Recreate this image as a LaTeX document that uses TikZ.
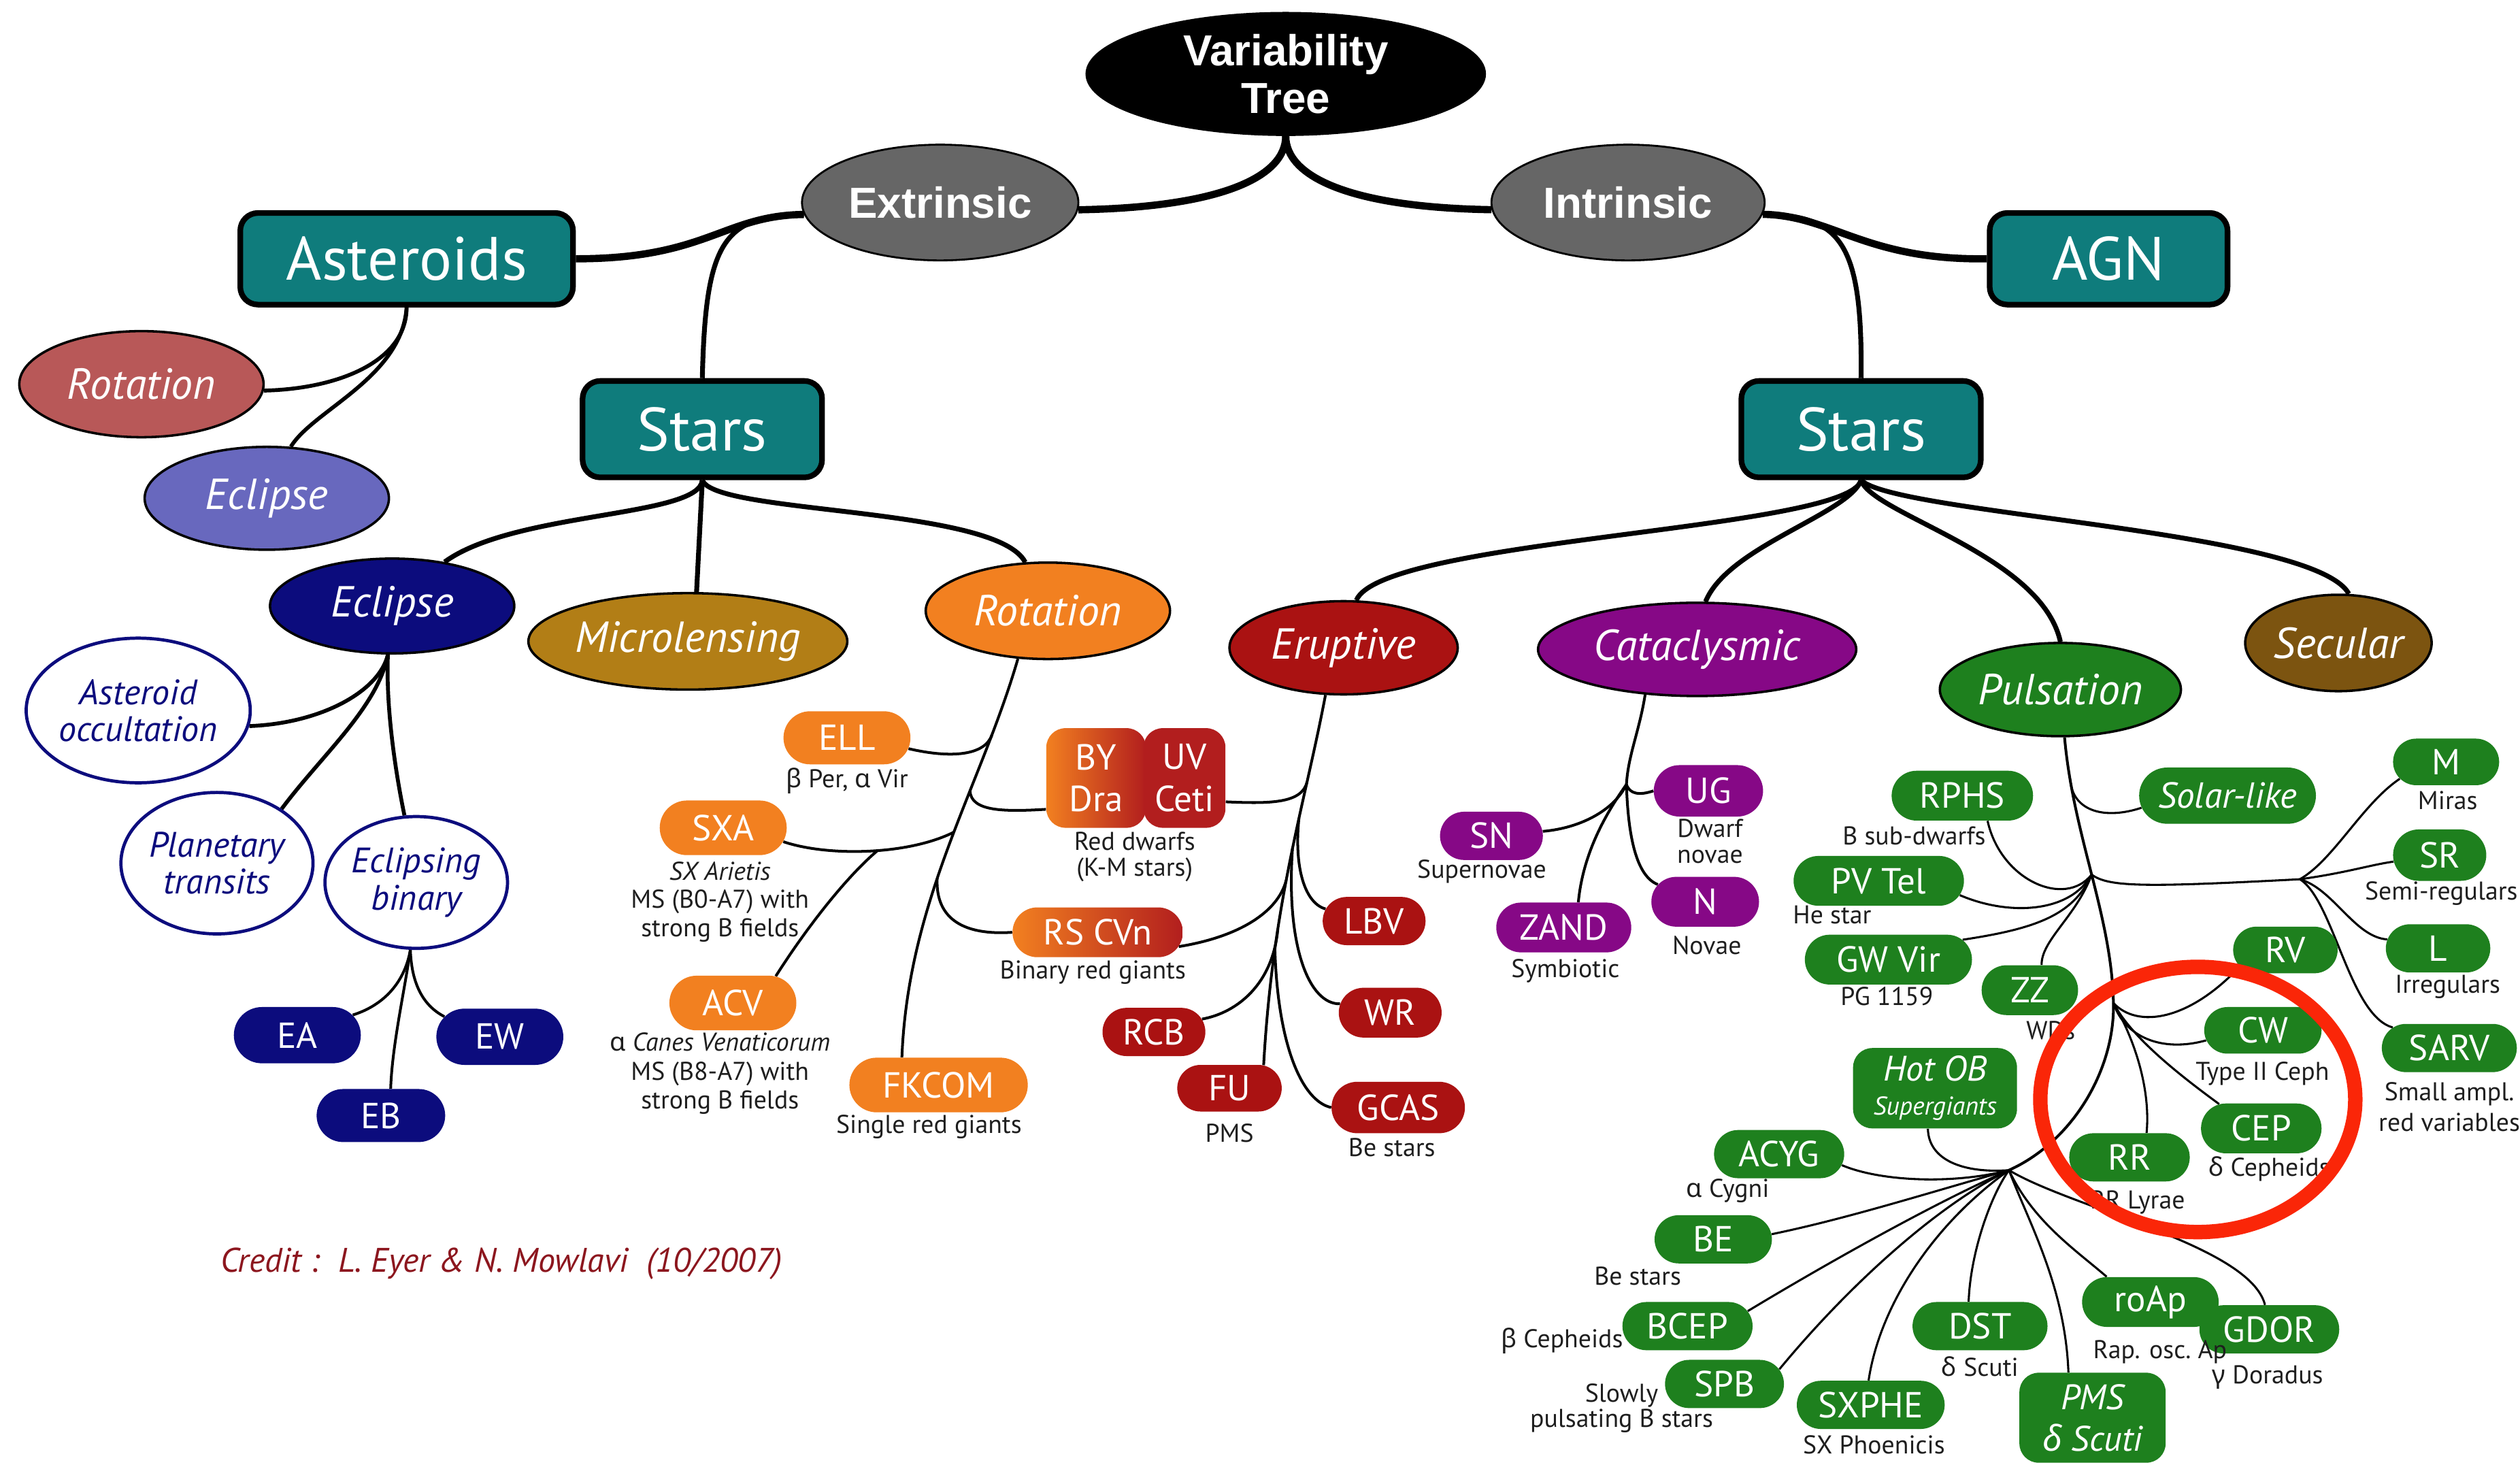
\documentclass[tikz,border=0pt]{standalone}
\usepackage{fontspec}
\setmainfont{PT Sans}
\newfontfamily\helv{Liberation Sans}
\newfontfamily\gk{Noto Sans}
\usetikzlibrary{shapes.geometric,shapes.misc,calc}
\definecolor{cTeal}{RGB}{15,124,124}
\definecolor{cGray}{RGB}{102,102,102}
\definecolor{cRose}{RGB}{184,88,88}
\definecolor{cSlate}{RGB}{104,104,190}
\definecolor{cNavy}{RGB}{12,12,125}
\definecolor{cGold}{RGB}{178,126,22}
\definecolor{cOrange}{RGB}{242,128,32}
\definecolor{cRed}{RGB}{170,18,18}
\definecolor{cDeepRed}{RGB}{178,30,30}
\definecolor{cPurple}{RGB}{134,8,134}
\definecolor{cGreen}{RGB}{30,128,30}
\definecolor{cBrown}{RGB}{124,84,16}
\definecolor{cCredit}{RGB}{140,22,30}
\definecolor{cCircle}{RGB}{250,38,8}
\definecolor{cLab}{RGB}{30,30,30}
\pgfdeclarelayer{bg}
\pgfsetlayers{bg,main}
\tikzset{
  sz/.style 2 args={minimum width=#1,minimum height=#2},
  bigbox/.style={rectangle, draw=black, line width=3.5pt, rounded corners=11pt, fill=cTeal, text=white, inner sep=0pt, font=\fontsize{38}{38}\selectfont},
  topell/.style={ellipse, draw=black, line width=1.2pt, fill=cGray, inner sep=0pt, text=white, align=center, font=\helv\bfseries\fontsize{27}{30}\selectfont},
  catell/.style={ellipse, draw=black, line width=1.5pt, inner sep=0pt, text=white, font=\itshape\fontsize{27}{27}\selectfont},
  wcirc/.style={ellipse, draw=cNavy, line width=2pt, fill=white, text=cNavy, inner sep=0pt, align=center, font=\itshape\fontsize{22}{23}\selectfont},
  pill/.style={rounded rectangle, inner sep=0pt, text=white, font=\fontsize{22.5}{22.5}\selectfont},
  rbx/.style={rectangle, rounded corners=12pt, inner sep=0pt, text=white, align=center},
  lab/.style={inner sep=0pt, text=cLab, align=center, font=\fontsize{16}{18}\selectfont},
  wA/.style={line width=4.5pt},
  wB/.style={line width=3pt},
  wC/.style={line width=2.4pt},
  wD/.style={line width=1.7pt},
  wE/.style={line width=1.3pt},
}
\begin{document}
\begin{tikzpicture}[x=1pt,y=-1pt]
\useasboundingbox (0,0) rectangle (1568,911);

% ---------- top levels ----------
\node[topell, fill=black, sz={248}{76}] (VT) at (800,46) {Variability\\Tree};
\node[topell, sz={172}{72}] (Ext) at (585,126) {Extrinsic};
\node[topell, sz={170}{72}] (Int) at (1013,126) {Intrinsic};
\node[bigbox, sz={207}{57}] (Ast) at (253,161) {Asteroids};
\node[bigbox, sz={148}{57}] (AGN) at (1312,161) {AGN};
\node[bigbox, sz={149}{60}] (StarsL) at (437,267) {Stars};
\node[bigbox, sz={149}{60}] (StarsR) at (1158,267) {Stars};
\node[catell, fill=cRose, sz={152}{66}] (ARot) at (88,239) {Rotation};
\node[catell, fill=cSlate, sz={152}{64}] (AEcl) at (166,310) {Eclipse};

\node[catell, fill=cNavy, sz={152}{59}] (Ecl) at (244,377) {Eclipse};
\node[catell, fill=cGold, sz={180}{60}] (Micro) at (428,399) {Microlensing};
\node[catell, fill=cOrange, sz={152}{60}] (Rot) at (652,380) {Rotation};
\node[catell, fill=cRed, sz={142}{58}] (Eru) at (836,403) {Eruptive};
\node[catell, fill=cPurple, sz={198}{58}] (Cat) at (1056,404) {Cataclysmic};
\node[catell, fill=cGreen, sz={150}{58}] (Pul) at (1282,429) {Pulsation};
\node[catell, fill=cBrown, sz={116}{60}] (Sec) at (1455,400) {Secular};

% ---------- eclipse branch ----------
\node[wcirc, sz={122}{90}] (AO) at (86,442) {Asteroid\\occultation};
\node[wcirc, sz={108}{88}] (PT) at (135,537) {Planetary\\transits};
\node[wcirc, sz={104}{82}] (EBin) at (259,549) {Eclipsing\\binary};
\node[pill, fill=cNavy, sz={79}{35}] (EA) at (185,644) {EA};
\node[pill, fill=cNavy, sz={79}{35}] (EW) at (311,645) {EW};
\node[pill, fill=cNavy, sz={80}{33}] (EB) at (237,694) {EB};

% ---------- rotation branch ----------
\node[pill, fill=cOrange, sz={79}{33}] (ELL) at (527,459) {ELL};
\node[pill, fill=cOrange, sz={79}{34}] (SXA) at (450,515) {SXA};
\node[pill, fill=cOrange, sz={79}{34}] (ACV) at (456,624) {ACV};
\node[pill, fill=cOrange, sz={111}{34}] (FKCOM) at (584,675) {FKCOM};
\node[rbx, left color=cOrange, right color=cDeepRed, sz={62}{62}, font=\fontsize{22.5}{26}\selectfont] (BY) at (682,484) {BY\\Dra};
\node[rbx, fill=cDeepRed, sz={51}{62}, font=\fontsize{22.5}{26}\selectfont] (UV) at (737,484) {UV\\Ceti};
\node[pill, left color=cOrange, right color=cDeepRed, sz={106}{31}] (RSCVn) at (683,580) {RS CVn};

\node[lab] (lELL) at (527,486) {{\gk β} Per, {\gk α} Vir};
\node[lab, font=\fontsize{16}{17.5}\selectfont] (lSXA) at (448,561) {\textit{SX Arietis}\\MS (B0-A7) with\\strong B fields};
\node[lab, font=\fontsize{16}{18}\selectfont] (lACV) at (448,668) {{\gk α} \textit{Canes Venaticorum}\\MS (B8-A7) with\\strong B fields};
\node[lab] (lFK) at (578,701) {Single red giants};
\node[lab, font=\fontsize{16}{16}\selectfont] (lBY) at (706,533) {Red dwarfs\\(K-M stars)};
\node[lab] (lRS) at (680,605) {Binary red giants};

% ---------- eruptive branch ----------
\node[pill, fill=cRed, sz={64}{30}] (LBV) at (855,573) {LBV};
\node[pill, fill=cRed, sz={64}{31}] (WR) at (865,630) {WR};
\node[pill, fill=cRed, sz={64}{30}] (RCB) at (718,642) {RCB};
\node[pill, fill=cRed, sz={65}{29}] (FU) at (765,677) {FU};
\node[pill, fill=cRed, sz={83}{32}] (GCAS) at (870,689) {GCAS};
\node[lab] (lFU) at (765,705) {PMS};
\node[lab] (lGC) at (866,714) {Be stars};

% ---------- cataclysmic branch ----------
\node[pill, fill=cPurple, sz={64}{30}] (SN) at (928,520) {SN};
\node[pill, fill=cPurple, sz={84}{31}] (ZAND) at (973,577) {ZAND};
\node[pill, fill=cPurple, sz={68}{32}] (UG) at (1063,492) {UG};
\node[pill, fill=cPurple, sz={67}{31}] (N) at (1061,561) {N};
\node[lab] (lSN) at (922,542) {Supernovae};
\node[lab] (lZA) at (974,604) {Symbiotic};
\node[lab, anchor=base] (lUG) at (1064,521) {Dwarf};
\node[lab, anchor=base] (lUG2) at (1064,537) {novae};
\node[lab] (lN) at (1062,588) {Novae};

% ---------- pulsation branch ----------
\node[pill, fill=cGreen, sz={88}{31}] (RPHS) at (1221,495) {RPHS};
\node[pill, fill=cGreen, sz={106}{31}] (PVTel) at (1169,548) {PV Tel};
\node[pill, fill=cGreen, sz={104}{31}] (GWVir) at (1175,597) {GW Vir};
\node[pill, fill=cGreen, sz={60}{31}] (ZZ) at (1263,616) {ZZ};
\node[pill, fill=cGreen, sz={110}{35}, font=\itshape\fontsize{22.5}{22.5}\selectfont] (Solar) at (1386,495) {Solar-like};
\node[pill, fill=cGreen, sz={66}{29}] (M) at (1522,474) {M};
\node[pill, fill=cGreen, sz={58}{32}] (SR) at (1518,532) {SR};
\node[pill, fill=cGreen, sz={65}{30}] (L) at (1517,590) {L};
\node[pill, fill=cGreen, sz={84}{30}] (SARV) at (1524,652) {SARV};
\node[pill, fill=cGreen, sz={65}{29}] (RV) at (1422,591) {RV};
\node[pill, fill=cGreen, sz={73}{29}] (CW) at (1408,641) {CW};
\node[pill, fill=cGreen, sz={75}{31}] (CEP) at (1407,702) {CEP};
\node[pill, fill=cGreen, sz={75}{30}] (RR) at (1325,720) {RR};
\node[rbx, fill=cGreen, sz={102}{50}, font=\itshape\fontsize{16}{16}\selectfont] (HotOB) at (1204,677) {{\fontsize{22}{22}\selectfont Hot OB}\\[5pt]Supergiants};
\node[pill, fill=cGreen, sz={81}{30}] (ACYG) at (1107,718) {ACYG};
\node[pill, fill=cGreen, sz={73}{30}] (BE) at (1066,771) {BE};
\node[pill, fill=cGreen, sz={81}{30}] (BCEP) at (1050,825) {BCEP};
\node[pill, fill=cGreen, sz={74}{30}] (SPB) at (1073,861) {SPB};
\node[pill, fill=cGreen, sz={92}{30}] (SXPHE) at (1164,874) {SXPHE};
\node[pill, fill=cGreen, sz={84}{30}] (DST) at (1232,825) {DST};
\node[rbx, fill=cGreen, sz={91}{56}, font=\itshape\fontsize{22}{26}\selectfont] (PMS) at (1302,882) {PMS\\{\gk\itshape δ} Scuti};
\node[pill, fill=cGreen, sz={85}{31}] (roAp) at (1338,810) {roAp};
\node[pill, fill=cGreen, sz={87}{30}] (GDOR) at (1412,827) {GDOR};

\node[lab] (lRP) at (1191,520) {B sub-dwarfs};
\node[lab] (lPV) at (1140,569) {He star};
\node[lab] (lGW) at (1174,620) {PG 1159};
\node[lab] (lZZ) at (1276,641) {WDs};
\node[lab] (lM) at (1523,498) {Miras};
\node[lab] (lSR) at (1519,556) {Semi-regulars};
\node[lab] (lL) at (1523,614) {Irregulars};
\node[lab, font=\fontsize{16}{19}\selectfont] (lSA) at (1524,688.5) {Small ampl.\\red variables};
\node[lab, anchor=west] (lCW) at (1366,668) {Type II Ceph};
\node[lab, anchor=west] (lCEP) at (1374,727) {{\gk δ} Cepheids};
\node[lab] (lRR) at (1330,748) {RR Lyrae};
\node[lab] (lAC) at (1075,741) {{\gk α} Cygni};
\node[lab] (lBE) at (1019,794) {Be stars};
\node[lab, anchor=east] (lBC) at (1010,834) {{\gk β} Cepheids};
\node[lab, font=\fontsize{16}{14}\selectfont] (lSP) at (1009,876) {Slowly\\pulsating B stars};
\node[lab] (lSX) at (1166,899) {SX Phoenicis};
\node[lab] (lDS) at (1232,850) {{\gk δ} Scuti};
\node[lab] (lRO) at (1344,841) {Rap. osc.\ Ap};
\node[lab] (lGD) at (1411,857) {{\gk γ} Doradus};

\node[inner sep=0pt, anchor=west, text=cCredit, font=\itshape\fontsize{21.2}{22}\selectfont] (credit) at (137,786) {Credit :\ \ L. Eyer \& N. Mowlavi\ \ (10/2007)};

% ---------- junctions ----------
\coordinate (jC) at (1012,488);
\coordinate (jB) at (1315,624);
\coordinate (hub) at (1250,728);
\coordinate (jM) at (1431,547);

% ---------- connectors ----------
\begin{pgfonlayer}{bg}
\draw[wA] (VT.south) .. controls (800,110) and (760,129) .. (Ext.-3);
\draw[wA] (VT.south) .. controls (800,110) and (840,129) .. (Int.183);
\draw[wA] (Ext.185) .. controls (450,134) and (440,161) .. (Ast.east);
\draw[wB] (Ext.185) .. controls (450,134) and (439,150) .. (StarsL.north);
\draw[wA] (Int.-5) .. controls (1140,134) and (1160,162) .. (AGN.west);
\draw[wB] (Int.-5) .. controls (1145,134) and (1159,150) .. (StarsR.north);

\draw[wC] (Ast.south) .. controls (253,225) and (210,242) .. (ARot.-3);
\draw[wC] (Ast.south) .. controls (250,235) and (195,255) .. (AEcl.65);

\draw[wB] (StarsL.south) .. controls (435,322) and (320,318) .. (Ecl.40);
\draw[wB] (StarsL.south) -- (Micro.80);
\draw[wB] (StarsL.south) .. controls (445,320) and (620,315) .. (Rot.115);

\draw[wB] (StarsR.south) .. controls (1150,330) and (860,335) .. (Eru.75);
\draw[wB] (StarsR.south) .. controls (1150,320) and (1075,340) .. (Cat.80);
\draw[wB] (StarsR.south) .. controls (1165,320) and (1270,345) .. (Pul.north);
\draw[wB] (StarsR.south) .. controls (1180,320) and (1440,330) .. (Sec.78);

% eclipse
\draw[wC] (Ecl.265) .. controls (236,430) and (200,450) .. (AO.-8);
\draw[wC] (Ecl.265) .. controls (235,440) and (200,470) .. (PT.40);
\draw[wC] (Ecl.265) .. controls (240,440) and (246,480) .. (EBin.100);
\draw[wD] (EBin.-95) .. controls (252,610) and (240,625) .. (EA.20);
\draw[wD] (EBin.-95) .. controls (252,615) and (244,650) .. (EB.70);
\draw[wD] (EBin.-95) .. controls (256,610) and (262,625) .. (EW.160);

% rotation
\draw[wD] (Rot.238) .. controls (610,490) and (565,560) .. (FKCOM.143)
  coordinate[pos=0.2] (jELL) coordinate[pos=0.35] (jBY) coordinate[pos=0.46] (jSXA) coordinate[pos=0.58] (jRS);
\draw[wD] (ELL.-10) .. controls (592,472) and (613,470) .. (jELL);
\draw[wD] (jBY) .. controls (604,505) and (625,505) .. (BY.212);
\draw[wD] (SXA.-13) .. controls (515,533) and (565,532) .. (jSXA) coordinate[pos=0.55] (jACV);
\draw[wD] (ACV.32) .. controls (500,580) and (525,547) .. (jACV);
\draw[wD] (jRS) .. controls (582,572) and (600,582) .. (RSCVn.west);

% eruptive
\draw[wD] (Eru.249) .. controls (812,500) and (792,560) .. (FU.34)
  coordinate[pos=0.27] (jUV) coordinate[pos=0.38] (jLBV) coordinate[pos=0.47] (jWR) coordinate[pos=0.56] (jRSE) coordinate[pos=0.69] (jRCB) coordinate[pos=0.74] (jG);
\draw[wD] (UV.-30) .. controls (790,500) and (810,500) .. (jUV);
\draw[wD] (jLBV) .. controls (805,540) and (812,562) .. (LBV.166);
\draw[wD] (jWR) .. controls (800,590) and (815,625) .. (WR.170);
\draw[wD] (RSCVn.-10) .. controls (770,583) and (795,568) .. (jRSE);
\draw[wD] (RCB.15) .. controls (770,630) and (792,612) .. (jRCB);
\draw[wD] (jG) .. controls (795,650) and (810,685) .. (GCAS.west);

% cataclysmic
\draw[wD] (Cat.221) .. controls (1020,455) and (1013,470) .. (jC);
\draw[wD] (jC) .. controls (1005,503) and (985,515) .. (SN.5);
\draw[wD] (jC) .. controls (1000,505) and (985,530) .. (ZAND.60);
\draw[wD] (jC) .. controls (1014,494) and (1020,495) .. (UG.west);
\draw[wD] (jC) .. controls (1013,520) and (1018,545) .. (N.160);

% pulsation
\draw[wD] (Pul.275) .. controls (1290,520) and (1314,570) .. (jB)
  coordinate[pos=0.15] (jSol) coordinate[pos=0.5] (jA);
\draw[wD] (jB) .. controls (1316,665) and (1290,710) .. (hub);
\draw[wE] (jSol) .. controls (1290,505) and (1310,510) .. (Solar.188);
\draw[wE] (RPHS.-45) .. controls (1245,548) and (1285,565) .. (jA);
\draw[wE] (PVTel.-10) .. controls (1250,570) and (1288,568) .. (jA);
\draw[wE] (GWVir.15) .. controls (1265,578) and (1290,570) .. (jA);
\draw[wE] (ZZ.65) .. controls (1270,585) and (1292,570) .. (jA);
\draw[wE] (jA) .. controls (1312,552) and (1335,552) .. (jM);
\draw[wE] (jM) .. controls (1452,535) and (1470,500) .. (M.200);
\draw[wE] (jM) .. controls (1460,543) and (1475,538) .. (SR.188);
\draw[wE] (jM) .. controls (1452,553) and (1465,583) .. (L.170);
\draw[wE] (jM) .. controls (1452,560) and (1462,632) .. (SARV.160);
\draw[wE] (jB) .. controls (1330,640) and (1362,635) .. (RV.200);
\draw[wE] (jB) .. controls (1322,645) and (1345,655) .. (CW.190);
\draw[wE] (jB) .. controls (1326,645) and (1355,668) .. (CEP.150);
\draw[wE] (jB) .. controls (1330,650) and (1338,680) .. (RR.55);
\draw[wE] (HotOB.-100) .. controls (1200,722) and (1222,730) .. (hub);
\draw[wE] (ACYG.-10) .. controls (1170,735) and (1215,737) .. (hub);
\draw[wE] (BE.5) .. controls (1150,758) and (1200,742) .. (hub);
\draw[wE] (BCEP.14) .. controls (1130,790) and (1200,750) .. (hub);
\draw[wE] (SPB.15) .. controls (1150,800) and (1205,750) .. (hub);
\draw[wE] (SXPHE.95) .. controls (1170,810) and (1205,760) .. (hub);
\draw[wE] (DST.115) .. controls (1226,780) and (1238,745) .. (hub);
\draw[wE] (hub) .. controls (1262,760) and (1285,800) .. (PMS.118);
\draw[wE] (hub) .. controls (1265,760) and (1292,778) .. (roAp.150);
\draw[wE] (hub) .. controls (1290,752) and (1400,775) .. (GDOR.100);
\end{pgfonlayer}

% highlight ring
\draw[cCircle, line width=9pt] (1367.5,684) ellipse [x radius=98, y radius=82.5];
\end{tikzpicture}
\end{document}
